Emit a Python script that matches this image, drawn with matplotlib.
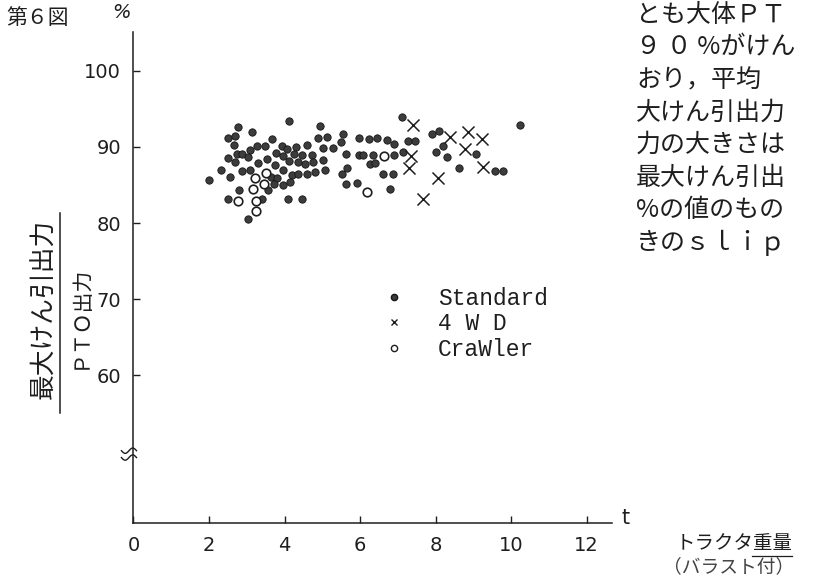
import matplotlib
matplotlib.use("Agg")
import matplotlib.pyplot as plt
import numpy as np
from matplotlib import font_manager
from matplotlib.lines import Line2D

plt.rcParams["font.family"] = ["Noto Sans CJK JP", "DejaVu Sans"]

installed = {f.name for f in font_manager.fontManager.ttflist}
NUM_FONT = "Liberation Sans Narrow" if "Liberation Sans Narrow" in installed else "DejaVu Sans"
MONO_FONT = "Liberation Mono" if "Liberation Mono" in installed else "DejaVu Sans Mono"
INK = "#1e1e1e"

# tractor weight with ballast [t] vs max drawbar pull / PTO power [%]
standard_weight = [
    2.78, 3.13, 2.51, 2.69, 2.67, 3.09, 3.26, 3.48, 2.51, 2.73, 2.87, 3.04,
    2.69, 3.31, 3.53, 2.32, 2.56, 2.87, 3.09, 2.00, 2.80, 2.50, 3.40, 3.04,
    3.57,
    4.12, 4.94, 4.89, 5.12, 5.54, 3.66, 5.01, 5.29, 5.50, 3.93, 4.06, 4.30,
    4.60, 3.77, 3.97, 4.13, 4.25, 4.47, 4.72, 4.37, 4.54, 4.75, 5.01, 5.63,
    3.75, 3.97, 3.64, 3.79, 4.19, 4.37, 4.59, 4.81, 5.07, 4.15, 3.97, 3.72,
    5.52, 5.63, 4.10, 4.46,
    5.97, 6.23, 6.44, 6.71, 6.91, 7.28, 7.46, 7.12, 5.96, 6.09, 6.35, 6.91,
    7.15, 6.26, 6.40, 5.65, 6.62, 6.88, 5.91, 6.79,
    7.90, 8.10, 8.00, 8.19, 8.30, 9.06, 8.62, 9.58, 9.80, 10.24,
]
standard_ratio = [
    92.6, 92.0, 91.2, 91.4, 90.2, 89.6, 90.1, 90.1, 88.5, 89.1, 89.1, 88.7,
    88.0, 87.9, 88.4, 87.0, 86.1, 86.8, 87.0, 85.7, 84.3, 83.2, 83.1, 80.6,
    84.4,
    93.4, 92.7, 91.2, 91.3, 91.7, 91.0, 89.9, 89.9, 90.6, 90.1, 89.7, 90.0,
    90.2, 89.2, 88.8, 88.2, 89.1, 89.0, 89.0, 88.0, 87.7, 88.0, 88.3, 89.1,
    87.6, 87.0, 86.1, 85.9, 86.3, 86.5, 86.5, 86.7, 87.0, 85.4, 85.0, 85.1,
    86.4, 85.1, 83.1, 83.2,
    91.2, 91.1, 91.2, 90.9, 90.4, 90.8, 90.8, 93.9, 88.9, 88.9, 89.0, 88.9,
    89.4, 87.8, 87.9, 87.3, 86.4, 86.4, 85.3, 84.5,
    91.7, 92.1, 89.4, 90.1, 88.7, 89.1, 87.2, 86.8, 86.8, 92.9,
]
wd4_weight = [7.40, 8.37, 8.85, 9.24, 7.35, 7.31, 8.78, 9.27, 8.07, 7.68]
wd4_ratio = [92.9, 91.3, 92.0, 91.1, 88.8, 87.3, 89.7, 87.4, 85.9, 83.1]
crawler_weight = [3.22, 3.51, 3.46, 3.17, 2.78, 3.25, 3.25, 6.64, 6.19]
crawler_ratio = [85.9, 86.6, 85.1, 84.5, 82.9, 82.9, 81.6, 88.8, 84.1]

x_ticks = [0, 2, 4, 6, 8, 10, 12]
y_ticks = [60, 70, 80, 90, 100]
y_break = 49.2

legend_labels = ["Standard", "4 W D", "CraWler"]
note_lines = [
    "とも大体ＰＴ",
    "９ ０ %がけん",
    "おり，平均",
    "大けん引出力",
    "力の大きさは",
    "最大けん引出",
    "%の値のもの",
    "きのｓｌｉｐ",
]

W, H = 822, 579
fig = plt.figure(figsize=(W / 100, H / 100), dpi=100)
ax = fig.add_axes([0.1624, 0.0967, 0.5824, 0.848])
ax.set_xlim(0, 12.68)
ax.set_ylim(40.6, 105.1)

for side in ("top", "right"):
    ax.spines[side].set_visible(False)
for side in ("left", "bottom"):
    ax.spines[side].set_color(INK)
    ax.spines[side].set_linewidth(1.1)

ax.set_xticks(x_ticks)
ax.set_yticks(y_ticks)
ax.tick_params(direction="in", length=5, width=1, color=INK, labelcolor=INK,
               labelsize=14)
ax.tick_params(axis="x", pad=9)
ax.tick_params(axis="y", pad=9)
for lab in ax.get_xticklabels() + ax.get_yticklabels():
    lab.set_fontfamily(NUM_FONT)

ax.scatter(standard_weight, standard_ratio, s=28, marker="o",
           facecolor="#3c3c3c", edgecolor="#151515", linewidth=0.6, zorder=3)
ax.scatter(wd4_weight, wd4_ratio, s=75, marker="x", color=INK,
           linewidth=1.1, zorder=3)
ax.scatter(crawler_weight, crawler_ratio, s=38, marker="o", facecolor="white",
           edgecolor=INK, linewidth=1.2, zorder=3)

# axis break mark on the y axis
t = np.linspace(-1, 1, 40)
for off in (0.0, 0.9):
    ax.plot(-0.12 + 0.2 * t, y_break + off + 0.35 * np.sin(np.pi * t),
            color=INK, lw=1.0, clip_on=False)

handles = [
    Line2D([], [], ls="", marker="o", ms=4.5, mfc="#3c3c3c", mec="#151515"),
    Line2D([], [], ls="", marker="x", ms=5, mew=1.0, color=INK),
    Line2D([], [], ls="", marker="o", ms=4.5, mfc="white", mec=INK, mew=1.0),
]
fig.legend(handles, legend_labels, loc="upper left",
           bbox_to_anchor=(383 / W, 1 - 287 / H), frameon=False,
           borderpad=0, borderaxespad=0, handlelength=1.0, handletextpad=1.4,
           labelspacing=0.1, prop={"family": MONO_FONT, "size": 16.5},
           labelcolor=INK)

# figure number, unit and axis labels
fig.text(6 / W, 1 - 18 / H, "第６図", fontsize=15, color=INK, va="center")
fig.text(121 / W, 1 - 13 / H, "%", fontsize=14, color=INK, va="center",
         ha="center", fontfamily=NUM_FONT, style="italic")
fig.text(621 / W, 1 - 518 / H, "t", fontsize=15, color=INK, va="center",
         fontfamily=NUM_FONT)

fig.text(44 / W, 1 - 309 / H, "最大けん引出力", rotation=90, fontsize=18.5,
         color=INK, ha="center", va="center")
fig.add_artist(Line2D([60 / W, 60 / W], [1 - 213 / H, 1 - 413 / H],
                      transform=fig.transFigure, color=INK, lw=1.1))
fig.text(80 / W, 1 - 317 / H, "ＰＴＯ出力", rotation=90, fontsize=15,
         color=INK, ha="center", va="center")

fig.text(676 / W, 1 - 544 / H, "トラクタ重量", fontsize=14, color=INK,
         va="center")
fig.add_artist(Line2D([752 / W, 792 / W], [1 - 556 / H, 1 - 556 / H],
                      transform=fig.transFigure, color=INK, lw=0.9))
fig.text(663 / W, 1 - 567 / H, "（バラスト付）", fontsize=13.5, color="#444444",
         va="center")

# running text beside the figure, cut by the page edge
for i, line in enumerate(note_lines):
    fig.text(636 / W, 1 - (15 + 32.5 * i) / H, line, fontsize=18, color=INK,
             va="center")

fig.savefig("out.png", dpi=100)
